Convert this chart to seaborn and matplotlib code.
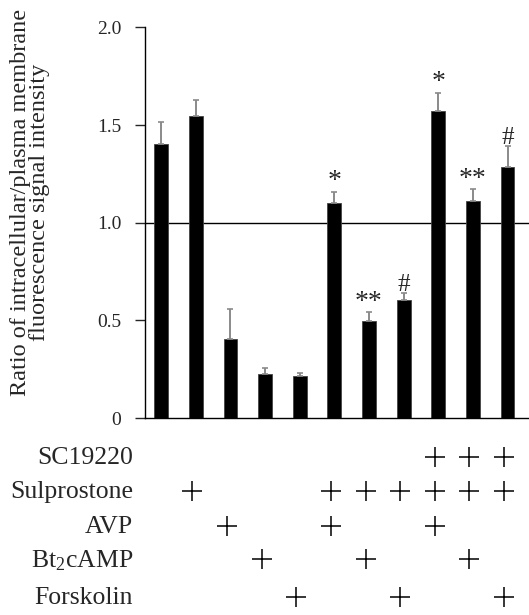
import numpy as np
import pandas as pd
import matplotlib
matplotlib.use("Agg")
import matplotlib.pyplot as plt
import matplotlib.transforms as mtransforms
import seaborn as sns

# ---- data ----
conditions = [f"c{i}" for i in range(1, 12)]
ratio = [1.405, 1.546, 0.404, 0.227, 0.217, 1.099, 0.497, 0.604, 1.570, 1.111, 1.287]
sem = [0.109, 0.084, 0.154, 0.027, 0.012, 0.060, 0.047, 0.034, 0.096, 0.060, 0.105]
marks = ["", "", "", "", "", "*", "**", "#", "*", "**", "#"]
row_labels = ["SC19220", "Sulprostone", "AVP", "Bt$_2$cAMP", "Forskolin"]
treatments = {
    "SC19220":     [0, 0, 0, 0, 0, 0, 0, 0, 1, 1, 1],
    "Sulprostone": [0, 1, 0, 0, 0, 1, 1, 1, 1, 1, 1],
    "AVP":         [0, 0, 1, 0, 0, 1, 0, 0, 1, 0, 0],
    "Bt$_2$cAMP":  [0, 0, 0, 1, 0, 0, 1, 0, 0, 1, 0],
    "Forskolin":   [0, 0, 0, 0, 1, 0, 0, 1, 0, 0, 1],
}
yticks = [0, 0.5, 1.0, 1.5, 2.0]
ytick_labels = ["0", "0.5", "1.0", "1.5", "2.0"]

sns.set_style("white")
plt.rcParams["font.family"] = ["Liberation Serif", "DejaVu Serif"]
plt.rcParams["mathtext.fontset"] = "custom"
plt.rcParams["mathtext.rm"] = "Liberation Serif"
plt.rcParams["mathtext.it"] = "Liberation Serif"

df = pd.DataFrame({"cond": conditions, "ratio": ratio})

fig = plt.figure(figsize=(5.29, 6.15), dpi=100)
ax = fig.add_axes([0.274, 0.3203, 0.726, 0.6351])

sns.barplot(data=df, x="cond", y="ratio", color="black", width=0.4,
            errorbar=None, ax=ax, edgecolor="#444444", linewidth=0.6,
            saturation=1)
xpos = np.arange(len(conditions))
ax.errorbar(xpos, ratio, yerr=[np.zeros(len(sem)), sem], fmt="none",
            ecolor="#8a8a8a", elinewidth=1.4, capsize=2.5, capthick=1.2,
            zorder=1)

ax.axhline(1.0, color="black", lw=1.0, zorder=0.5)

ax.set_ylim(0, 2.0)
ax.set_xlim(-0.47, 10.62)
ax.set_yticks(yticks)
ax.set_yticklabels(ytick_labels, fontsize=14)
ax.set_xticks([])
ax.set_xlabel("")
ax.set_ylabel("Ratio of intracellular/plasma membrane\nfluorescence signal intensity",
              fontsize=17.5, linespacing=0.85)
ax.yaxis.set_label_coords(-0.248, 0.552)
ax.tick_params(axis="y", direction="out", length=7, width=1.0, pad=10, left=True)
for s in ["top", "right"]:
    ax.spines[s].set_visible(False)
for s in ["left", "bottom"]:
    ax.spines[s].set_color("black")
    ax.spines[s].set_linewidth(1.0)

for x, v, e, m in zip(xpos, ratio, sem, marks):
    if m:
        ax.annotate(m, (x, v + e), xytext=(0, -2), textcoords="offset points",
                    ha="center", va="bottom", fontsize=20 if m != "#" else 18)

# treatment table
trans = mtransforms.blended_transform_factory(ax.transData, fig.transFigure)
row_y = [1 - 457 / 615, 1 - 491 / 615, 1 - 526 / 615, 1 - 559 / 615, 1 - 597 / 615]
for lab, yy in zip(row_labels, row_y):
    fig.text(133 / 529, yy - 0.002, lab, ha="right", va="center", fontsize=18.5)
    flags = treatments[lab]
    xs = [x - 0.1 for x, f in zip(xpos, flags) if f]
    ax.plot(xs, [yy] * len(xs), linestyle="none", marker="+", color="black",
            markersize=15, markeredgewidth=1.1, transform=trans, clip_on=False)

fig.savefig("out.png", dpi=100)
